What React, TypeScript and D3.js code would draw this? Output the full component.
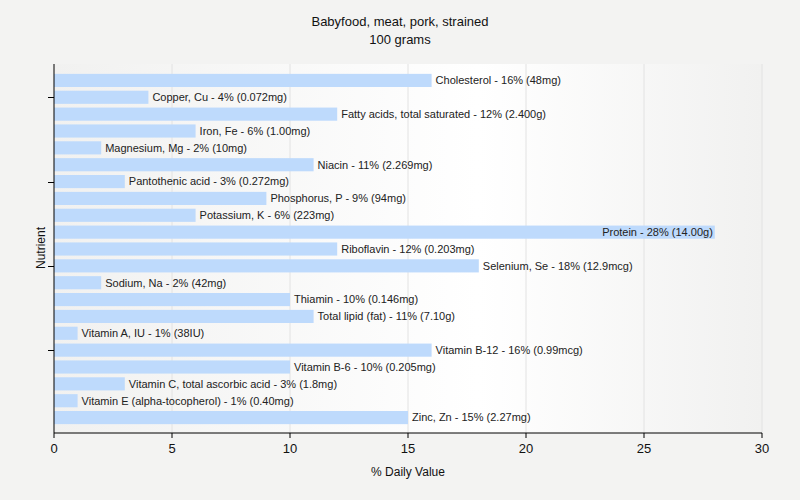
import React from "react";
import * as d3 from "d3";

const nutrients = [
  "Cholesterol", "Copper, Cu", "Fatty acids, total saturated", "Iron, Fe", "Magnesium, Mg",
  "Niacin", "Pantothenic acid", "Phosphorus, P", "Potassium, K", "Protein", "Riboflavin",
  "Selenium, Se", "Sodium, Na", "Thiamin", "Total lipid (fat)", "Vitamin A, IU",
  "Vitamin B-12", "Vitamin B-6", "Vitamin C, total ascorbic acid",
  "Vitamin E (alpha-tocopherol)", "Zinc, Zn",
];
const percents = [16, 4, 12, 6, 2, 11, 3, 9, 6, 28, 12, 18, 2, 10, 11, 1, 16, 10, 3, 1, 15];
const amounts = [
  "48mg", "0.072mg", "2.400g", "1.00mg", "10mg", "2.269mg", "0.272mg", "94mg", "223mg",
  "14.00g", "0.203mg", "12.9mcg", "42mg", "0.146mg", "7.10g", "38IU", "0.99mcg", "0.205mg",
  "1.8mg", "0.40mg", "2.27mg",
];
const xTicks = [0, 5, 10, 15, 20, 25, 30];
const yTickIdx = [1, 6, 11, 16];

const W = 800, H = 500;
const left = 54, right = 762, top = 64, bottom = 433;
const font = "'Liberation Sans', Arial, sans-serif";

export default function App() {
  const x = d3.scaleLinear().domain([0, 30]).range([left, right]);
  const y = d3.scaleBand<string>().domain(nutrients).range([72, 426]).paddingInner(0.22).paddingOuter(0.11);
  const bw = y.bandwidth();
  return (
    <svg width={W} height={H} style={{ position: "absolute", left: 0, top: 0 }} fontFamily={font}>
      <defs>
        <linearGradient id="bg" x1="0" x2="1" y1="0" y2="0">
          <stop offset="0" stopColor="#f1f1f0" />
          <stop offset="0.6" stopColor="#ffffff" />
          <stop offset="1" stopColor="#f1f1f0" />
        </linearGradient>
      </defs>
      <rect x={0} y={0} width={W} height={H} fill="#f3f3f2" />
      <rect x={left} y={top} width={right - left} height={bottom - top} fill="url(#bg)" />
      {xTicks.slice(1).map((t) => (
        <line key={t} x1={x(t)} x2={x(t)} y1={top} y2={bottom} stroke="#e2e2e2" />
      ))}
      {nutrients.map((n, i) => {
        const label = `${n} - ${percents[i]}% (${amounts[i]})`;
        const xe = x(percents[i]);
        const yc = (y(n) as number) + bw / 2;
        const inside = xe + 4 + label.length * 5.2 > right;
        return (
          <g key={n}>
            <rect x={left} y={y(n)} width={xe - left} height={bw} fill="#bedafc" />
            <text
              x={inside ? xe - 2 : xe + 4}
              y={yc}
              dy="0.35em"
              fontSize={11}
              textAnchor={inside ? "end" : "start"}
              fill="#222"
            >
              {label}
            </text>
          </g>
        );
      })}
      <line x1={left} x2={left} y1={top} y2={bottom} stroke="#000" />
      <line x1={left} x2={right} y1={bottom} y2={bottom} stroke="#000" />
      {yTickIdx.map((i) => {
        const yy = Math.round((y(nutrients[i]) as number) + bw / 2) + 0.5;
        return <line key={i} x1={left - 6} x2={left} y1={yy} y2={yy} stroke="#000" />;
      })}
      {xTicks.map((t) => (
        <g key={t}>
          <line x1={x(t)} x2={x(t)} y1={bottom} y2={bottom + 5} stroke="#000" />
          <text x={x(t)} y={bottom + 20} textAnchor="middle" fontSize={13} fill="#111">
            {t}
          </text>
        </g>
      ))}
      <text x={400} y={26} textAnchor="middle" fontSize={13} fill="#111">Babyfood, meat, pork, strained</text>
      <text x={400} y={44} textAnchor="middle" fontSize={13} fill="#111">100 grams</text>
      <text x={408} y={476} textAnchor="middle" fontSize={12} fill="#111">% Daily Value</text>
      <text transform={`translate(45,248) rotate(-90)`} textAnchor="middle" fontSize={12} fill="#111">Nutrient</text>
    </svg>
  );
}
